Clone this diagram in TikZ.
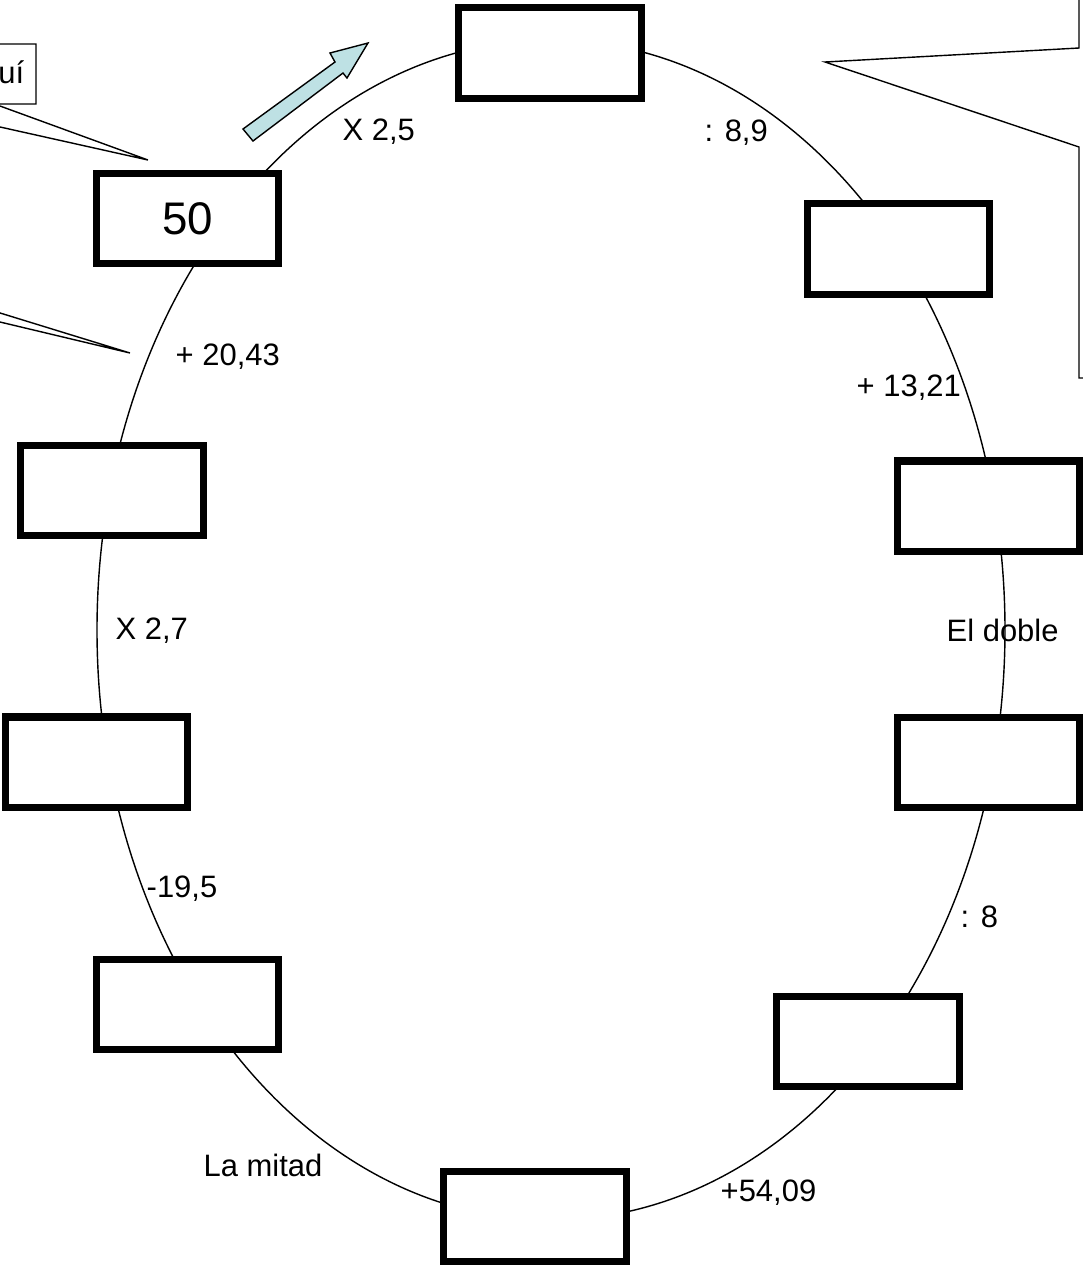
\documentclass[tikz,border=0pt]{standalone}
\usepackage{fontspec}
\setmainfont{Liberation Sans}
\usepackage{tikz}
\usetikzlibrary{positioning}
\definecolor{flecha}{RGB}{190,225,228}
\tikzset{
  casilla/.style = {draw=black, line width=2pt, fill=white, inner sep=0pt,
    minimum width=1.82cm, minimum height=0.90cm,
    font=\fontsize{13}{15}\selectfont},
  op/.style = {inner sep=0pt, anchor=base west,
    font=\fontsize{8.8}{10}\selectfont}
}

\begin{document}
\begin{tikzpicture}[x=0.01cm, y=-0.01cm]
\useasboundingbox (0,0) rectangle (1083,1269);
\clip (0,0) rectangle (1083,1269);
\coordinate (centro) at (551,630);
\draw (centro) ellipse [x radius=454, y radius=590];
% casillas
\node [casilla] (inicio) at (187.5,218.5) {50};
\node [casilla] (c1) at (550,53) {};
\node [casilla] (c2) at (898.5,249) {};
\node [casilla] (c3) at (988.5,506) {};
\node [casilla] (c4) at (988.5,762.5) {};
\node [casilla] (c5) at (868,1041.5) {};
\node [casilla] (c6) at (535,1216.5) {};
\node [casilla] (c7) at (187.5,1004.5) {};
\node [casilla] (c8) at (96.5,762) {};
\node [casilla] (c9) at (112,490.5) {};
% operaciones
\node [op] (o1) at (342,140) {X 2,5};
\node [op] (o2) at (704,141) {: 8,9};
\node [op] (o3) at (856,396) {+ 13,21};
\node [op] (o4) at (946,641) {El doble};
\node [op] (o5) at (960,927) {: 8};
\node [op] (o6) at (720,1201) {+54,09};
\node [op] (o7) at (203,1176) {La mitad};
\node [op] (o8) at (146,897) {-19,5};
\node [op] (o9) at (115,639) {X 2,7};
\node [op] (o10) at (175,365) {+ 20,43};
% flecha y bocadillos
\draw [fill=flecha] (243,129) -- (335,62) -- (330,53) -- (368,43)
  -- (347,78) -- (343,73) -- (253,141) -- cycle;
\draw [fill=white] (-400,44) -- (36,44) -- (36,104) -- (-5.5,104)
  -- (148,160) -- (-103,104) -- (-400,104) -- cycle;
\node [inner sep=0pt, anchor=base east, font=\fontsize{8.8}{10}\selectfont]
  (aqui) at (25,83) {uí};
\draw (-60,294.5) -- (130,353) -- (-60,307.7);
\draw (1079,-10) -- (1079,48) -- (825,62) -- (1079,147) -- (1079,378)
  -- (1100,378);
\end{tikzpicture}
\end{document}
